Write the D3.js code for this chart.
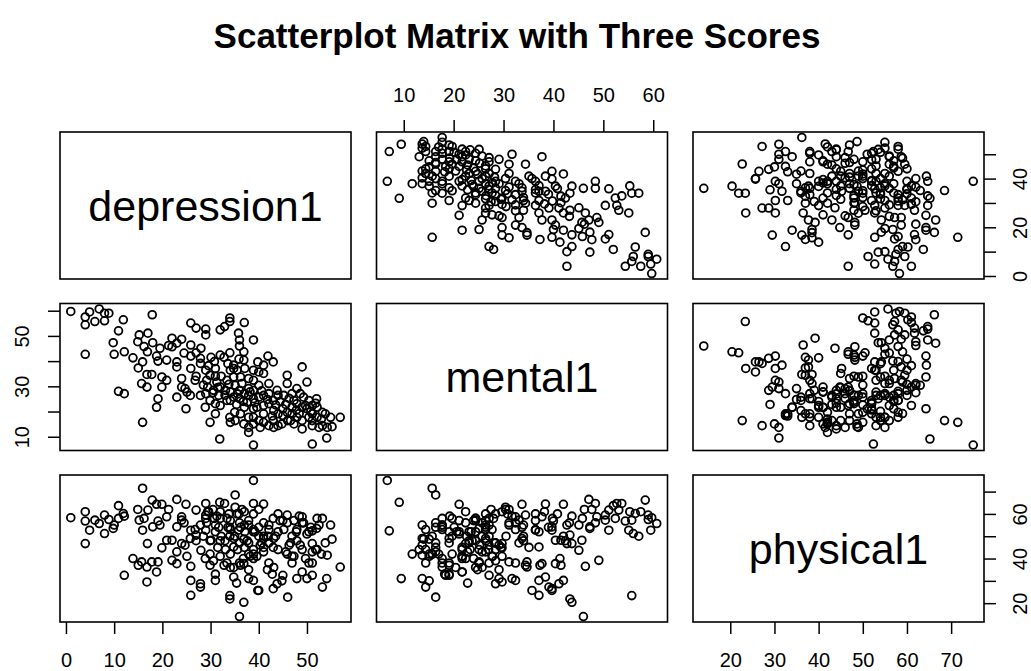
<!DOCTYPE html>
<html><head><meta charset="utf-8">
<script src="https://cdn.jsdelivr.net/npm/d3@7"></script>
<style>
body{margin:0;background:#fff}
svg{display:block}
text{font-family:"Liberation Sans",Arial,Helvetica,sans-serif;fill:#000}
</style>
</head><body>
<svg id="chart" width="1031" height="671"></svg>
<script>
const variables = ["depression1", "mental1", "physical1"];
const chartTitle = "Scatterplot Matrix with Three Scores";

const depression1 = [
1.0,4.0,4.0,4.9,6.0,6.9,8.0,8.0,8.9,4.0,
11.9,17.9,9.8,10.9,10.0,12.1,13.9,15.0,14.9,15.2,
17.0,18.0,16.9,15.9,16.8,17.8,15.7,16.8,10.9,12.1,
15.9,18.8,19.1,19.9,20.9,19.9,19.1,18.8,20.9,22.0,
22.0,23.0,24.0,23.0,23.0,24.0,24.0,23.0,24.9,25.9,
27.0,29.0,29.0,32.0,32.9,34.0,34.0,37.0,38.9,35.8,
36.0,36.0,36.9,25.9,25.9,27.0,28.0,27.9,25.9,27.0,
27.9,29.0,30.1,31.0,29.9,31.0,32.8,34.0,34.8,34.8,
36.9,37.1,37.9,39.8,41.0,41.9,43.0,40.0,41.0,38.9,
42.1,43.8,45.9,49.0,45.9,47.9,50.0,49.3,52.0,47.9,
49.7,51.1,53.2,54.9,56.9,54.2,55.2,54.1,51.1,38.9,
31.9,29.9,31.0,28.9,27.9,29.0,29.9,31.0,32.0,33.1,
34.1,34.1,34.0,34.1,35.0,35.1,36.0,36.0,37.0,37.0,
37.9,37.9,37.9,38.9,38.9,38.9,38.9,36.9,37.9,37.9,
40.0,40.0,40.0,41.0,41.0,41.0,42.1,42.1,42.1,43.0,
43.0,44.0,44.0,44.0,45.0,45.0,45.9,46.0,46.9,46.9,
46.9,47.9,49.0,49.0,49.0,50.0,51.1,51.1,51.1,52.1,
53.2,24.7,25.1,25.8,26.8,29.4,32.0,29.2,31.3,34.8,
33.4,36.2,36.5,37.6,39.6,41.0,43.1,45.2,46.6,47.3,
48.6,50.4,52.1,53.8,32.2,35.5,38.9,34.1,32.0,30.6,
31.7,34.8,33.4,36.2,35.1,38.9,40.3,43.1,44.8,47.3,
52.5,50.4,28.5,30.5,31.5,33.0,33.8,35.6,36.8,38.2,
39.2,40.6,41.8,43.5,44.4,45.6,46.3,47.8,48.4,50.8,
51.8,53.0,29.6,30.8,33.6,35.9,24.5,21.3,19.5,16.2,
35.4,42.8
];

const mental1 = [
59.7,57.5,54.4,59.5,55.7,60.7,56,59,59,42.7,
56.4,58.4,47.3,52,42.7,43.7,41.3,37.3,47.7,50.4,
51.1,47.3,43.7,39.7,34.7,34.7,31.1,29.7,28,27.1,
15.7,42,40,33.7,32.4,29.7,25.1,21.7,40.4,49.1,
45.7,47.1,48.7,39.7,37.7,33.1,29.7,25.7,21.1,55.1,
53.1,52.7,50.4,52.4,53.7,55.7,57.1,55.3,48.4,51.1,
48.4,46,43.7,46.4,42,43.3,45.1,41.1,37.1,34,
39.1,36.4,41.5,37.1,34.4,34,41.5,43.3,38.4,37.1,
40.4,37.1,33.1,39.7,38.4,42,39.7,35.7,35.1,32.4,
31.1,28.4,34.4,37.7,31.1,29.1,31.7,25.7,25.1,23.1,
22.4,22.4,19.7,17.7,17.7,13.7,14,9.5,7.1,6.7,
9.1,15.7,19.1,21.7,26.4,27.1,24.4,23.1,22.4,28.4,
27.7,24.4,17.7,15.7,19.7,30.4,28.4,25.1,27.1,21.7,
26.4,29.1,17.7,28.4,25.1,21.1,17.7,15.1,13.7,11.7,
25.7,30.4,16.4,26.4,22.4,19.1,27.1,23.1,14.4,24.4,
16.4,26.4,19.1,14.4,21.1,18.4,19.7,16.4,27.1,21.7,
19.1,17.7,21.7,16.4,13.1,21.1,19.1,16.4,14.4,17.7,
14.4,29.1,27.7,26.4,32.4,29.7,29.7,32.4,31.7,33.7,
32.4,33.7,31.1,23.7,21.7,15.7,20.4,26.4,16.4,24.4,
27.1,24.4,21.7,19.1,34,36.4,36.4,36.4,42.4,28.4,
26.4,25.7,24.4,19.1,16.4,15.1,13.7,13.7,15.1,15.1,
13.7,17.7,30.5,27.5,29.5,26.5,30.8,27.0,24.0,27.8,
23.5,28.2,24.8,22.6,24.0,22.8,25.2,20.6,19.2,20.1,
23.3,17.0,38.2,39.8,39.0,40.8,43.2,46.2,45.1,45.8,
22.8,18.2
];

const physical1 = [
58.3,61,56.8,52.7,57.2,55.7,51.2,59.5,57.5,46.7,
60.2,66.2,53.5,63.7,55,59,40,37,62,57.2,
61.7,54.2,46.7,52.7,36.2,38.5,38.5,29.5,58,32.5,
71.5,64.3,56.8,64.3,58.7,44.8,38.5,34,48.2,39.2,
48.2,66.5,58.7,54.2,37.7,57.2,46.7,43,64.3,52.7,
61.7,64.7,59.5,58,64.7,23.4,50,61,64.7,52.7,
56,14,20.4,36.5,30.2,50.5,43.7,28.7,23.5,48,
27.2,52.7,48.2,30.2,37,55,37,21.9,31.7,45.2,
37.7,52,47,25.7,64.4,50,26.5,25.7,45,30.2,
55,28.7,59.5,58.7,56,31,31,56,53.5,48,
40,46.7,58,55,36.2,41.5,48.7,31,52.4,75,
65.2,42,33,40,55,58,48,52,61,44,
53,36,54,42,50,63,47,38,55,45,
57,35,55,60,44,52,40,48.7,31,42,
50,62,54,43,56,49,38,47,53,58,
45,60,52,44,57,32.5,42,22.7,50,41,
38,53,34,56,44,51,32.5,43,38,58,
27.2,46,41,49,53,61,41,56,59,49,
38,54,62,48,41,50,36,53,47,57,
46,52,44,47,50,60,53,57,48,39,
54,36,58,37,68.5,42,46,49,30,41,
55,38,50,62,45,48,60,44,40,41,
52,47,35,50,57,43,46,52,59,54,
44,42,61,58,54,60,56,62,55,58,
29,33
];

const seriesByName = { depression1, mental1, physical1 };

const tickValues = {
  depression1: [0, 10, 20, 30, 40, 50],
  mental1: [10, 20, 30, 40, 50, 60],
  physical1: [20, 30, 40, 50, 60, 70]
};
// labels that R actually printed on the side axes (others suppressed by overlap)
const leftLabels = { mental1: [10, 30, 50] };
const rightLabels = { depression1: [0, 20, 40], physical1: [20, 40, 60] };

// ---- layout ----
const svg = d3.select("#chart");
const panelW = 291, panelH = 147;
const colX = [60, 376.5, 693];
const rowY = [132, 303.5, 475];
const n = variables.length;

// title
svg.append("text")
  .attr("x", 517).attr("y", 48)
  .attr("text-anchor", "middle")
  .style("font-weight", "bold")
  .style("font-size", "35px")
  .text(chartTitle);

// scales (R pads the data range by 4% on each side)
function padded(vals) {
  const [lo, hi] = d3.extent(vals);
  const r = hi - lo;
  return [lo - 0.04 * r, hi + 0.04 * r];
}
const xScales = variables.map((v, j) =>
  d3.scaleLinear().domain(padded(seriesByName[v])).range([colX[j], colX[j] + panelW]));
const yScales = variables.map((v, i) =>
  d3.scaleLinear().domain(padded(seriesByName[v])).range([rowY[i] + panelH, rowY[i]]));

const N = depression1.length;
const idx = d3.range(N);

for (let i = 0; i < n; i++) {
  for (let j = 0; j < n; j++) {
    const g = svg.append("g");
    if (i === j) {
      g.append("text")
        .attr("x", colX[j] + panelW / 2)
        .attr("y", rowY[i] + panelH / 2)
        .attr("dy", "0.36em")
        .attr("text-anchor", "middle")
        .style("font-size", "43px")
        .text(variables[i]);
    } else {
      const xs = seriesByName[variables[j]], ys = seriesByName[variables[i]];
      g.selectAll("circle").data(idx).join("circle")
        .attr("cx", k => xScales[j](xs[k]))
        .attr("cy", k => yScales[i](ys[k]))
        .attr("r", 3.9)
        .attr("fill", "none")
        .attr("stroke", "#000")
        .attr("stroke-width", 1.8);
    }
    g.append("rect")
      .attr("x", colX[j]).attr("y", rowY[i])
      .attr("width", panelW).attr("height", panelH)
      .attr("fill", "none").attr("stroke", "#000").attr("stroke-width", 1.6);
  }
}

function styleAxis(sel) {
  sel.select(".domain").remove();
  sel.selectAll(".tick line").attr("stroke", "#000").attr("stroke-width", 1.5);
  sel.selectAll(".tick text").style("font-size", "20px").style("font-family", '"Liberation Sans",Arial,sans-serif');
}

// top axis on column 2 (mental1)
{
  const v = variables[1];
  const g = svg.append("g").attr("transform", `translate(0,${rowY[0]})`)
    .call(d3.axisTop(xScales[1]).tickValues(tickValues[v]).tickSize(12).tickFormat(d3.format("d")));
  styleAxis(g);
  g.selectAll(".tick text").attr("y", -30).attr("dy", 0);
}
// bottom axes on columns 1 and 3
[0, 2].forEach(j => {
  const v = variables[j];
  const g = svg.append("g").attr("transform", `translate(0,${rowY[2] + panelH})`)
    .call(d3.axisBottom(xScales[j]).tickValues(tickValues[v]).tickSize(12).tickFormat(d3.format("d")));
  styleAxis(g);
  g.selectAll(".tick text").attr("y", 45).attr("dy", 0);
});
// left axis on row 2
{
  const v = variables[1];
  const g = svg.append("g").attr("transform", `translate(${colX[0]},0)`)
    .call(d3.axisLeft(yScales[1]).tickValues(tickValues[v]).tickSize(12)
      .tickFormat(d => leftLabels[v].includes(d) ? d3.format("d")(d) : ""));
  styleAxis(g);
  g.selectAll(".tick text").attr("x", 0).attr("y", 0).attr("dy", 0)
    .attr("text-anchor", "middle").attr("transform", "translate(-31,0) rotate(-90)");
}
// right axes on rows 1 and 3
[0, 2].forEach(i => {
  const v = variables[i];
  const g = svg.append("g").attr("transform", `translate(${colX[2] + panelW},0)`)
    .call(d3.axisRight(yScales[i]).tickValues(tickValues[v]).tickSize(12)
      .tickFormat(d => rightLabels[v].includes(d) ? d3.format("d")(d) : ""));
  styleAxis(g);
  g.selectAll(".tick text").attr("x", 0).attr("y", 0).attr("dy", 0)
    .attr("text-anchor", "middle").attr("transform", "translate(43,0) rotate(-90)");
});
</script>
</body></html>
